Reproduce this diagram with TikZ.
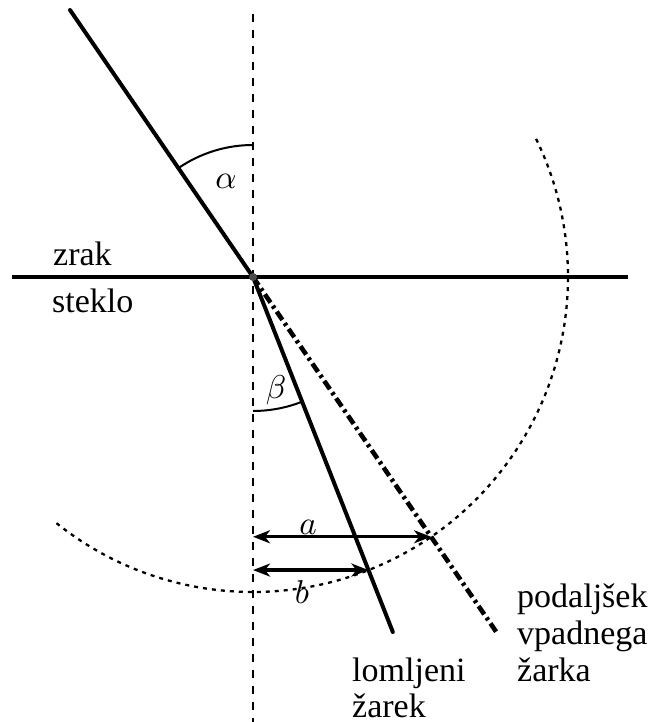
\RequirePackage{fix-cm}
\documentclass[tikz,border=0pt]{standalone}
\usepackage{fontspec}
\setmainfont{Liberation Serif}
\usetikzlibrary{arrows.meta}
\DeclareFontShape{OML}{cmm}{m}{it}{<->cmmi10}{}
\DeclareFontShape{OML}{cmm}{b}{it}{<->cmmib10}{}
\tikzset{
  ray/.style={line width=4pt, line cap=round},
  interface/.style={line width=4.6pt},
  normalline/.style={line width=2pt, dash pattern=on 8pt off 8pt},
  extension/.style={line width=4.6pt, dash pattern=on 10pt off 4pt on 3pt off 4pt},
  circ/.style={line width=2.3pt, dash pattern=on 4pt off 5pt},
  anglearc/.style={line width=2pt},
  meas/.style={line width=3.2pt, {Stealth[length=17pt,width=13pt,inset=5pt]}-{Stealth[length=17pt,width=13pt,inset=5pt]}},
  lbl/.style={inner sep=0pt, font=\fontsize{34}{37}\selectfont},
  mlbl/.style={inner sep=0pt, font=\fontsize{33}{36}\selectfont},
}
\begin{document}
\begin{tikzpicture}[x=1pt,y=1pt]
\useasboundingbox (0,0) rectangle (666,722);
\coordinate (O) at (253,445);
\coordinate (Ntop) at (253,708);
\coordinate (Nbot) at (253,0);
\coordinate (Hl) at (12,445);
\coordinate (Hr) at (628,445);
\coordinate (I) at (70,712);
\coordinate (E) at ([shift={(-55.57:431.6)}]O);
\coordinate (R) at ([shift={(-68.5:381.6)}]O);
\coordinate (A) at ([shift={(-55.57:315)}]O);
\coordinate (B) at ([shift={(-68.5:315)}]O);
\coordinate (C0) at ([shift={(-128.6:315)}]O);
\coordinate (Aa) at ([shift={(90:132)}]O);
\coordinate (Bb) at ([shift={(270:134)}]O);
% normal
\draw[normalline] (Ntop) -- (Nbot);
% dotted circle arc
\draw[circ] (C0) arc[start angle=-128.6, end angle=26.9, radius=315];
% interface
\draw[interface] (Hl) -- (Hr);
% rays
\draw[ray] (I) -- (O);
\draw[extension] (O) -- (E);
\draw[ray] (O) -- (R);
% angle arcs
\draw[anglearc] (Aa) arc[start angle=90, end angle=124.43, radius=132];
\draw[anglearc] (Bb) arc[start angle=270, end angle=291.5, radius=134];
% measurement arrows
\draw[meas] (O |- A) -- (A);
\draw[meas] (O |- B) -- (B);
% point
\fill[black!70] (O) circle[radius=4];
% labels
\node[mlbl] (alpha) at (226,541) {$\alpha$};
\node[mlbl] (beta) at (276,332) {$\beta$};
\node[mlbl] (la) at (308,195) {$a$};
\node[mlbl] (lb) at (302,130) {$b$};
\node[lbl, anchor=base west] (zrak) at (53,456) {zrak};
\node[lbl, anchor=base west] (steklo) at (52,409) {steklo};
\node[lbl, anchor=base west] (p1) at (517,114) {podaljšek};
\node[lbl, anchor=base west] (p2) at (517,77) {vpadnega};
\node[lbl, anchor=base west] (p3) at (517,40) {žarka};
\node[lbl, anchor=base west] (l1) at (352,40) {lomljeni};
\node[lbl, anchor=base west] (l2) at (352,5) {žarek};
\end{tikzpicture}
\end{document}
